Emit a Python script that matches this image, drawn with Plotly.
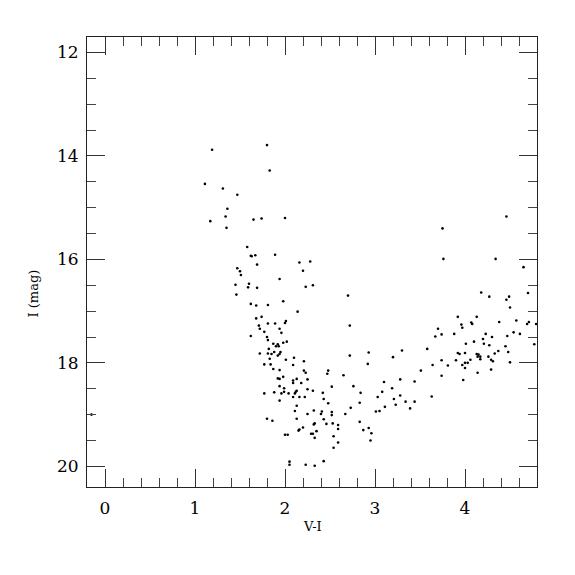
import plotly.graph_objects as go

# Colour-magnitude diagram: V-I colour and I magnitude of each star
v_minus_i = [
    1.19, 1.11, 1.31, 1.47, 1.36, 1.34, 1.17, 1.35, 1.47, 1.50, 1.51, 1.45, 1.60, 1.59, 1.46,
    1.80, 1.83, 1.65, 1.74, 2.00, 1.58, 1.62, 1.63, 1.67, 1.89, 2.16, 2.28, 1.69,
    2.20, 1.94, 1.69, 2.23, 2.31, 1.98, 1.62, 1.68, 1.81, 2.14, 1.68, 1.74, 1.81, 1.89, 2.00, 2.01,
    1.71, 1.72, 1.94, 1.77, 1.96, 1.62, 1.80, 1.81, 1.87, 1.90, 1.92, 1.93, 1.98, 2.02,
    1.82, 1.88, 1.95, 1.94, 1.85, 1.81, 1.92, 1.72, 2.10, 2.01, 1.83, 2.21, 1.77, 1.84, 2.09,
    1.87, 1.94, 2.21, 2.23, 2.48, 2.47, 1.98, 1.92, 1.94, 2.13, 2.25, 2.09, 2.09, 2.18,
    1.94, 1.99, 2.13, 2.25, 2.31, 2.52, 1.77, 1.88, 1.96, 1.99, 2.04, 2.11, 2.12, 2.09, 2.16,
    2.22, 2.42, 1.94, 2.43, 2.48, 2.13, 2.11, 2.32, 2.25, 2.41, 2.40, 2.52, 2.52, 1.80, 1.86,
    2.13, 2.43, 2.33, 2.32, 2.46, 2.53, 2.20, 2.16, 2.15, 2.35, 2.29, 2.31, 2.33, 2.00, 2.03,
    2.54, 2.54, 2.05, 2.05, 2.23, 2.33, 2.43,
    2.70, 2.72, 2.93, 2.72, 3.30, 3.20, 3.58, 2.92, 3.64, 2.65, 3.51, 2.76, 3.10, 3.28, 3.44,
    2.84, 3.08, 3.19, 3.03, 3.28, 3.63, 2.83, 3.21, 3.34, 3.44, 2.73, 3.11, 3.23, 3.39, 2.67,
    3.01, 3.05, 2.59, 2.83, 2.59, 2.93, 2.87, 2.96, 2.59, 2.95,
    4.46, 3.75, 3.76, 4.34, 4.65, 4.18, 4.27, 4.49, 4.46, 4.70, 4.50, 3.92, 4.13, 3.96, 3.97,
    4.07, 4.08, 4.38, 4.57, 4.71, 4.69, 4.79, 3.70, 3.67, 3.74, 3.88, 4.23, 4.30, 4.47, 4.54,
    4.61, 4.77, 4.01, 4.10, 4.20, 4.21, 4.27, 4.45, 4.48, 4.37, 4.33, 3.92, 3.94, 4.00, 4.13,
    4.15, 4.14, 4.17, 4.17, 4.26, 4.29, 4.31, 4.06, 4.03, 4.00, 3.90, 3.74, 3.81, 4.50, 3.97,
    4.00, 4.14, 4.29, 3.74, 3.98,
    -0.15,
]
i_mag = [
    13.88, 14.54, 14.63, 14.75, 15.02, 15.17, 15.26, 15.39, 16.17, 16.23, 16.30, 16.49, 16.47, 16.54, 16.68,
    13.79, 14.28, 15.23, 15.21, 15.20, 15.76, 15.93, 15.94, 15.92, 15.91, 16.06, 16.04, 16.10,
    16.22, 16.38, 16.55, 16.53, 16.50, 16.81, 16.86, 16.89, 16.88, 17.01, 17.14, 17.11, 17.24, 17.24, 17.23, 17.19,
    17.28, 17.34, 17.34, 17.40, 17.42, 17.48, 17.50, 17.56, 17.63, 17.68, 17.64, 17.68, 17.61, 17.59,
    17.73, 17.79, 17.79, 17.83, 17.83, 17.82, 17.86, 17.82, 17.90, 17.94, 17.92, 17.97, 18.03, 18.03, 18.04,
    18.12, 18.14, 18.15, 18.19, 18.15, 18.21, 18.27, 18.30, 18.31, 18.31, 18.32, 18.34, 18.39, 18.39,
    18.45, 18.49, 18.54, 18.51, 18.54, 18.46, 18.59, 18.57, 18.59, 18.56, 18.59, 18.59, 18.56, 18.66, 18.66,
    18.66, 18.58, 18.73, 18.70, 18.78, 18.83, 18.93, 18.92, 18.99, 18.94, 18.99, 18.95, 19.01, 19.08, 19.12,
    19.08, 19.09, 19.17, 19.19, 19.18, 19.17, 19.25, 19.29, 19.31, 19.32, 19.37, 19.37, 19.45, 19.39, 19.39,
    19.42, 19.64, 19.91, 19.97, 19.97, 19.99, 19.90,
    16.70, 17.28, 17.80, 17.86, 17.76, 17.89, 17.73, 18.02, 18.04, 18.24, 18.15, 18.45, 18.37, 18.32, 18.36,
    18.58, 18.56, 18.49, 18.66, 18.63, 18.65, 18.77, 18.70, 18.75, 18.75, 18.87, 18.85, 18.81, 18.88, 18.99,
    18.94, 18.93, 19.20, 19.14, 19.28, 19.26, 19.30, 19.36, 19.54, 19.50,
    15.17, 15.40, 15.99, 15.99, 16.15, 16.64, 16.72, 16.72, 16.78, 16.65, 16.93, 17.11, 17.11, 17.26, 17.32,
    17.22, 17.25, 17.21, 17.18, 17.21, 17.25, 17.25, 17.34, 17.49, 17.45, 17.44, 17.44, 17.50, 17.48, 17.41,
    17.44, 17.64, 17.63, 17.59, 17.54, 17.63, 17.66, 17.68, 17.79, 17.77, 17.82, 17.81, 17.83, 17.81, 17.83,
    17.84, 17.88, 17.88, 17.93, 17.88, 17.94, 17.97, 17.94, 18.00, 18.00, 17.95, 17.95, 18.05, 17.99, 18.04,
    18.10, 18.19, 18.13, 18.25, 18.33,
    19.00,
]

x_range = [-0.2, 4.8]
y_range = [20.4, 11.7]
x_ticks = [0, 1, 2, 3, 4]
y_ticks = [12, 14, 16, 18, 20]
x_title = "V-I"
y_title = "I (mag)"

FONT = "DejaVu Serif"

fig = go.Figure()
fig.add_trace(go.Scatter(
    x=v_minus_i, y=i_mag, mode="markers",
    marker=dict(color="black", size=2.6, line=dict(width=0)),
    showlegend=False, cliponaxis=False,
))

axis_common = dict(
    showgrid=False, zeroline=False,
    showline=True, linecolor="#222", linewidth=1,
    mirror="allticks", ticks="inside", ticklen=18, tickwidth=1, tickcolor="#333",
    tickfont=dict(family=FONT, size=17, color="black"),
)
fig.update_xaxes(range=x_range, tickvals=x_ticks, ticklabelstandoff=6,
                 minor=dict(dtick=0.2, tick0=0, ticks="inside", ticklen=9, tickcolor="#444", showgrid=False),
                 **axis_common)
fig.update_yaxes(range=y_range, tickvals=y_ticks, ticklabelstandoff=4,
                 minor=dict(dtick=0.5, tick0=0, ticks="inside", ticklen=9, tickcolor="#444", showgrid=False),
                 **axis_common)

fig.add_annotation(text=x_title, xref="paper", yref="paper", x=0.5, y=-0.087,
                   xanchor="center", yanchor="middle", showarrow=False,
                   font=dict(family=FONT, size=13, color="black"))
fig.add_annotation(text=y_title, xref="paper", yref="paper", x=-0.12, y=0.43,
                   xanchor="center", yanchor="middle", showarrow=False, textangle=-90,
                   font=dict(family=FONT, size=13, color="black"))

# the page body adds an 8 px offset, so margins are set to land the frame at 87..537 x 37..487
fig.update_layout(
    width=575, height=575,
    margin=dict(l=79, r=46, t=29, b=96),
    paper_bgcolor="white", plot_bgcolor="white",
)
fig.write_html("out.html")
